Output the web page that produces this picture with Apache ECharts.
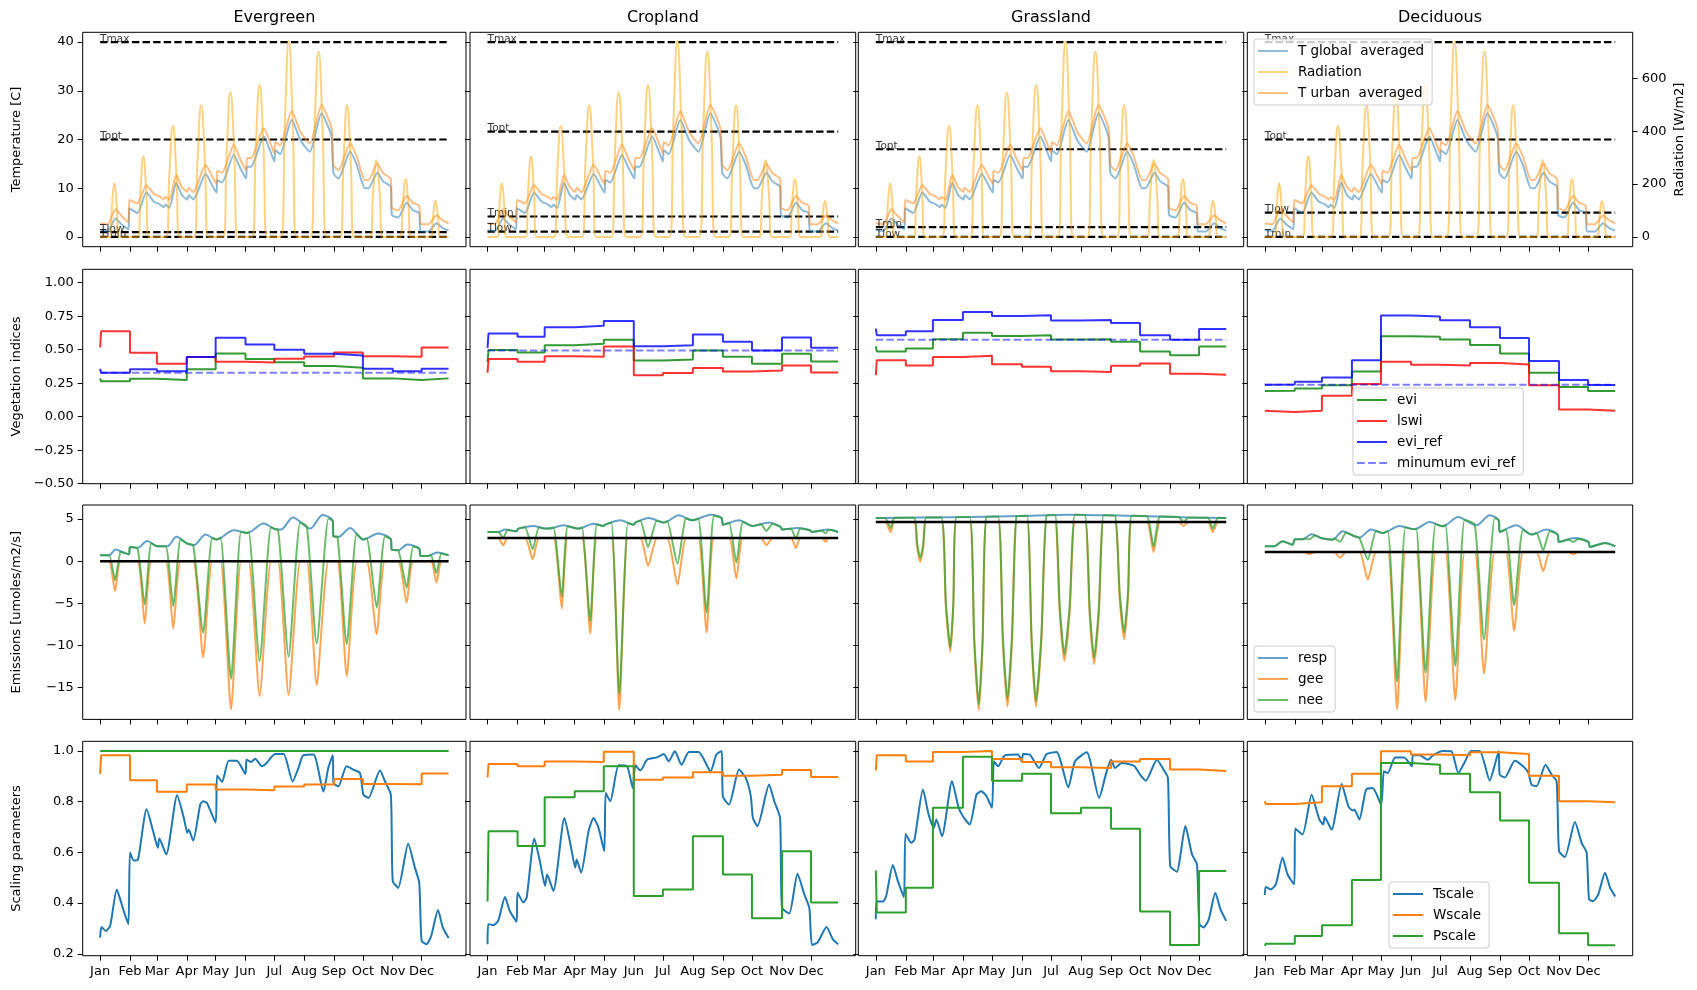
<!DOCTYPE html>
<html>
<head>
<meta charset="utf-8">
<script src="https://cdn.jsdelivr.net/npm/echarts@6/dist/echarts.min.js"></script>
<style>
  html, body { margin: 0; padding: 0; background: #fff; }
  #chart { width: 1697px; height: 990px; }
</style>
</head>
<body>
<div id="chart"></div>
<script>
// ---- data (x = day of year) ----
var columns = ['Evergreen', 'Cropland', 'Grassland', 'Deciduous'];
var monthStarts = [0, 31, 59, 90, 120, 151, 181, 212, 243, 273, 304, 334];
var monthNames = ['Jan', 'Feb', 'Mar', 'Apr', 'May', 'Jun', 'Jul', 'Aug', 'Sep', 'Oct', 'Nov', 'Dec'];
var dayEnd = 362;

// temperature thresholds per column
var tMin = [0, 4.2, 2, 0];
var tLow = [1, 1.1, 0, 5];
var tOpt = [20, 21.6, 18, 20];
var tMax = [40, 40, 40, 40];

// meteorology (same for every column)
var tGlobal = [[0,1.4],[7.6,1.2],[16,3.8],[22,2.6],[29.4,1.6],[30.4,5.9],[38.7,4.9],[48,9.1],[56,7.2],[61,6.8],[64,6.4],[66,6.1],[68,6.6],[72,6.0],[79,11.1],[85,8.6],[90.5,7.7],[92,8.6],[97,7.7],[109.5,12.9],[118,10.0],[121,9.1],[121.5,11.7],[126.7,11.2],[138.8,16.8],[145.7,14.1],[151.6,12.0],[152.6,14.4],[156.8,14.4],[170,20.6],[177,17.5],[181,15.5],[182,17.8],[187,17.0],[199,24.0],[208,19.9],[213,18.5],[218,17.5],[230,25.4],[237,22.6],[240.7,20.2],[242.4,13.1],[247.6,12.0],[259.7,17.5],[266.6,14.8],[271.8,11.4],[275,10.0],[278.7,10.0],[288,13.2],[294,11.4],[302,10.3],[303,4.5],[309.7,4.0],[318.4,7.0],[325,5.5],[331.5,4.9],[332.9,1.1],[340.8,1.1],[349.4,2.8],[356,1.8],[362,1.3]];
var tUrban = [[0,2.8],[7.6,2.6],[16,5.7],[22,4.4],[29.4,3.0],[30.4,7.6],[38.7,6.9],[48,10.6],[56,8.8],[61,8.4],[64,8.0],[66,7.7],[68,8.2],[72,7.6],[79,12.7],[85,10.2],[90.5,9.3],[92,10.1],[97,9.2],[109.5,14.8],[118,11.8],[121,10.9],[121.5,13.6],[126.7,13.2],[138.8,18.9],[145.7,15.9],[151.6,13.7],[152.6,16.2],[156.8,16.2],[170,22.3],[177,19.2],[181,17.2],[182,19.5],[187,18.8],[199,25.8],[208,21.6],[213,20.2],[218,19.2],[230,27.1],[237,24.3],[240.7,21.9],[242.4,14.8],[247.6,13.7],[259.7,19.2],[266.6,16.5],[271.8,13.1],[275,11.7],[278.7,11.7],[288,15.0],[294,13.1],[302,11.9],[303,6.0],[309.7,5.5],[318.4,8.4],[325,7.0],[331.5,6.4],[332.9,2.6],[340.8,2.6],[349.4,4.4],[356,3.4],[362,2.8]];
var radiation = [[0,0],[10.1,0],[12.4,120],[14.8,203],[17.2,120],[19.5,0],
  [39.2,0],[42,180],[44.9,304],[47.8,180],[50.6,0],
  [68.6,0],[72.1,250],[75.6,420],[79.1,250],[82.6,0],
  [97.7,0],[101.3,300],[105,498],[108.7,300],[112.3,0],
  [127.8,0],[131.6,330],[135.4,547],[139.2,330],[143,0],
  [157.9,0],[161.8,345],[165.7,575],[169.6,345],[173.5,0],
  [187.9,0],[192,440],[196,739],[200,440],[204.1,0],
  [218.6,0],[222.8,420],[226.9,701],[231,420],[235.2,0],
  [249.3,0],[253,300],[256.6,498],[260.2,300],[263.9,0],
  [280.4,0],[283.7,175],[287,289],[290.3,175],[293.6,0],
  [311.6,0],[314.5,130],[317.3,218],[320.1,130],[323,0],
  [343.4,0],[345.9,80],[348.4,136],[350.9,80],[353.4,0],[362,0]];

// vegetation indices: first value = day 0, then one value per month
var evi = [
  [0.286, 0.264, 0.283, 0.273, 0.355, 0.472, 0.43, 0.407, 0.378, 0.365, 0.286, 0.273, 0.286],
  [0.41, 0.497, 0.48, 0.534, 0.544, 0.574, 0.42, 0.427, 0.494, 0.447, 0.395, 0.469, 0.412],
  [0.526, 0.487, 0.509, 0.578, 0.626, 0.603, 0.608, 0.576, 0.578, 0.559, 0.487, 0.459, 0.524],
  [0.192, 0.194, 0.211, 0.234, 0.338, 0.60, 0.596, 0.576, 0.536, 0.472, 0.328, 0.221, 0.192]];
var lswi = [
  [0.517, 0.638, 0.477, 0.395, 0.445, 0.41, 0.405, 0.432, 0.45, 0.48, 0.452, 0.447, 0.517],
  [0.328, 0.43, 0.41, 0.452, 0.447, 0.524, 0.31, 0.326, 0.363, 0.338, 0.345, 0.383, 0.33],
  [0.31, 0.422, 0.383, 0.445, 0.454, 0.392, 0.373, 0.34, 0.333, 0.38, 0.397, 0.32, 0.313],
  [0.045, 0.035, 0.045, 0.157, 0.244, 0.41, 0.388, 0.383, 0.40, 0.39, 0.234, 0.053, 0.045]];
var eviRef = [
  [0.358, 0.328, 0.355, 0.34, 0.445, 0.59, 0.539, 0.50, 0.47, 0.457, 0.358, 0.34, 0.358],
  [0.514, 0.62, 0.596, 0.668, 0.678, 0.715, 0.526, 0.534, 0.613, 0.559, 0.494, 0.591, 0.514],
  [0.658, 0.608, 0.638, 0.722, 0.782, 0.752, 0.757, 0.717, 0.722, 0.70, 0.608, 0.574, 0.655],
  [0.239, 0.241, 0.261, 0.293, 0.422, 0.755, 0.747, 0.72, 0.668, 0.588, 0.415, 0.273, 0.236]];
var minEviRef = [0.328, 0.494, 0.574, 0.239];

// emissions: respiration curve, gee baseline (black line)
var resp = [
  [[0,0.71],[9.3,0.71],[16.2,1.38],[24.9,0.99],[30,0.83],[31,1.7],[38.7,1.58],[49,2.41],[59.4,1.78],[69.7,1.78],[79.4,2.89],[90.5,2.1],[97.4,1.9],[109.5,3.16],[120.9,2.57],[138.8,3.68],[152.6,3.36],[169.9,4.47],[182,3.79],[187.8,3.75],[200.2,5.18],[218,3.87],[231.2,5.49],[241.7,4.78],[242.4,2.96],[247.6,2.89],[259.7,3.95],[273.5,2.57],[289,3.28],[302,2.61],[303,1.38],[309.7,1.3],[319,1.98],[331.5,1.5],[332.9,0.63],[340.8,0.63],[350,1.03],[362,0.71]],
  [[0,3.47],[11,3.47],[18,3.75],[30,3.55],[31.8,3.87],[47.3,4.18],[59.4,3.87],[62.8,3.87],[78.4,4.26],[93.9,3.87],[109.5,4.46],[119.8,4.18],[121.5,4.34],[137,4.85],[150.9,4.34],[152.6,4.58],[166.4,5.13],[182,4.58],[197.5,5.44],[211.3,4.85],[230.3,5.52],[241.7,5.13],[243.1,4.34],[259.7,4.85],[273.5,4.18],[290.7,4.58],[302.8,4.06],[303.9,3.75],[320.1,3.94],[332.9,3.67],[334.9,3.47],[351.2,3.75],[362,3.47]],
  [[0,5.13],[50,5.18],[98.8,5.25],[150,5.38],[199,5.52],[240,5.44],[280,5.35],[323,5.2],[362,5.13]],
  [[0,1.78],[9.7,1.78],[18.3,2.37],[28.7,1.97],[31.1,2.6],[39,2.6],[48.3,3.2],[58,2.76],[70.1,2.56],[80.5,3.55],[92.5,2.96],[97.7,2.8],[109.8,3.75],[121.9,3.35],[139.2,4.18],[154.7,3.79],[170.2,4.65],[184,4.14],[199.6,5.25],[218.6,4.26],[232.4,5.44],[241.7,4.85],[242.7,3.47],[260,4.26],[275.6,3.16],[291.1,3.75],[302.5,3.16],[303.9,2.29],[320.4,2.76],[334.3,2.29],[336,1.7],[351.5,2.17],[362,1.78]]];
var geeBase = [0, 2.76, 4.65, 1.1];
// gee dips [start, centre, min, end, (optional wall points: x1, v1, x2, v2)]
var geeDips = [
  [[9.3,15.5,-3.55,21.4],[38.7,46.3,-7.38,53.2],[68,76,-7.97,83.6],[96.7,107,-11.4,116.4],[125,136,-17.55,146.4],[154.3,165.7,-15.98,177.5],[184.7,195.8,-15.86,207.9],[214.8,225,-14.67,237.2],[246.5,256.2,-13.6,266.6],[276.9,287.3,-8.64,295.9],[309.7,318.4,-4.93,325.3],[343.6,349.4,-2.52,354.6]],
  [[11,16.2,1.89,20.7],[38.7,46.6,0.24,53.2],[68,76.7,-5.6,82.9],[97.4,106,-8.56,112.9],[127.8,136,-17.63,145],[157.8,165.7,-0.55,175],[185.4,196.1,-2.76,205.1],[217.5,226.2,-8.44,233.8],[249.3,256.9,-2.05,263.8],[282.1,288,1.89,294.2],[313.2,318.4,1.58,322.9],[345.3,348.8,2.3,352.2]],
  [[9.7,15.2,3.47,19.3],[39.4,45.9,-0.08,52.1,42.7,1.58,49,1.58],[67.7,77,-10.73,83.2,72.35,-5.35,80.1,-5.35],[97,106.4,-17.63,114.3,101.7,-9.83,110.35,-9.83],[126.4,136,-17.24,145.4,131.2,-9.58,140.7,-9.58],[156.4,165.4,-17.24,176.5,160.9,-9.58,171,-9.58],[185.1,194.8,-11.83,205.8,190,-6.06,200.3,-6.06],[216.2,225.5,-12.23,235.2,220.9,-6.32,230.4,-6.32],[247.2,256.6,-9.23,264.5,251.9,-4.37,260.6,-4.37],[280,287,1.1,293.9],[312.8,318,4.18,323.2],[343.2,348,3.47,353.6]],
  [[40.7,45.9,0.83,51.8],[71.8,77.7,0.43,83.9],[97.7,106.4,-2.17,115],[127,136.7,-17.55,145.4],[156.4,166.1,-16.65,176.5],[186.5,196.8,-16.45,206.5],[216.9,226.5,-13.3,237.6],[249,257.6,-8.24,266.9],[280.7,287.6,-1.18,294.5],[313.5,318.7,0.83,323.9]]];
// nee dips [start, value, centre, min, end, value, (optional wall points: x1, v1, x2, v2)]
var neeDips = [
  [[9.3,0.71,15.5,-2.25,21.4,1.15],[38.7,1.58,46.3,-5.13,53.2,2.16],[68,1.78,76,-5.33,83.6,2.6],[96.7,1.92,107,-8.48,116.4,2.8],[125,2.82,136,-13.96,146.4,3.5],[154.3,3.47,165.7,-11.83,177.5,4.04],[184.7,3.77,195.8,-11.32,207.9,4.6],[214.8,4.1,225,-9.74,237.2,5.08],[246.5,2.9,256.2,-9.82,266.6,3.26],[276.9,2.73,287.3,-5.48,295.9,2.92],[309.7,1.3,318.4,-3.12,325.3,1.74],[343.6,0.77,349.4,-1.38,354.6,0.91]],
  [[11,3.47,16.2,2.76,20.7,3.7],[38.7,4.01,46.6,1.42,53.2,4.03],[68,4.0,76.7,-4.22,82.9,4.15],[97.4,4.0,106,-7.1,112.9,4.37],[127.8,4.55,136,-15.74,145,4.56],[157.8,4.79,165.7,1.7,175,4.83],[185.4,4.77,196.1,-0.28,205.1,5.12],[217.5,5.07,226.2,-6.07,233.8,5.4],[249.3,4.53,256.9,-0.16,263.8,4.65],[282.1,4.38,288,3.6,294.2,4.43],[313.2,3.86,318.4,2.68,322.9,3.88],[345.3,3.65,348.8,3.3,352.2,3.73]],
  [[9.7,5.14,15.2,3.94,19.3,5.15],[39.4,5.17,45.9,0.39,52.1,5.18,42.7,2.06,49,2.06],[67.7,5.2,77,-10.26,83.2,5.22,72.35,-4.85,80.1,-4.85],[97,5.25,106.4,-16.96,114.3,5.27,101.7,-9.18,110.35,-9.18],[126.4,5.32,136,-16.33,145.4,5.36,131.2,-8.75,140.7,-8.75],[156.4,5.4,165.4,-16.57,176.5,5.44,160.9,-8.88,171,-8.88],[185.1,5.48,194.8,-11.05,205.8,5.51,190,-5.26,200.3,-5.26],[216.2,5.5,225.5,-11.44,235.2,5.46,220.9,-5.51,230.4,-5.51],[247.2,5.42,256.6,-8.44,264.5,5.4,251.9,-3.59,260.6,-3.59],[280,5.35,287,1.7,293.9,5.31],[312.8,5.24,318,4.65,323.2,5.2],[343.2,5.17,348,3.87,353.6,5.15]],
  [[40.7,2.71,45.9,2.6,51.8,3.04],[71.8,2.72,77.7,2.3,83.9,3.38],[97.7,2.8,106.4,0.2,115,3.58],[127,3.6,136.7,-14.28,145.4,4.02],[156.4,3.88,166.1,-13.2,176.5,4.42],[186.5,4.32,196.8,-12.4,206.5,4.89],[216.9,4.35,226.5,-9.27,237.6,5.11],[249,3.76,257.6,-5.2,266.9,3.77],[280.7,3.35,287.6,1.3,294.5,3.57],[313.5,2.56,318.7,2.3,323.9,2.64]]];

// scaling parameters
var tscale = [
  [[0,0.264],[1.4,0.306],[5.9,0.29],[10.4,0.31],[17.3,0.454],[21.4,0.408],[25.6,0.356],[29.4,0.317],[31,0.6],[35,0.568],[39.4,0.572],[48.3,0.77],[56,0.67],[60,0.618],[61.5,0.655],[68.7,0.592],[80,0.826],[87,0.736],[90.5,0.677],[92,0.69],[96.7,0.647],[104,0.789],[107,0.802],[111,0.795],[120,0.717],[121.5,0.904],[126.7,0.878],[133.6,0.962],[142,0.962],[151,0.91],[152,0.966],[156.8,0.957],[161,0.97],[168,0.94],[173,0.953],[178.5,0.979],[182,0.988],[190.6,0.988],[200,0.88],[206,0.933],[211,0.983],[221.7,0.986],[232,0.84],[237,0.933],[241.7,0.983],[242.4,0.874],[247.6,0.861],[256,0.94],[263,0.927],[270,0.913],[273.5,0.828],[278.7,0.815],[290.7,0.923],[296,0.88],[302,0.828],[304,0.487],[309.7,0.461],[320,0.634],[327,0.54],[331.5,0.48],[334,0.251],[339,0.238],[344,0.271],[351,0.373],[356,0.304],[362,0.262]],
  [[0,0.238],[0.7,0.317],[5.9,0.313],[11,0.33],[18,0.424],[23,0.369],[30,0.327],[31,0.441],[37,0.402],[40.4,0.422],[48.3,0.655],[54,0.566],[59.4,0.468],[61.5,0.513],[68,0.448],[79.4,0.736],[86.3,0.618],[90.5,0.54],[92,0.572],[96.7,0.52],[104.3,0.684],[109.5,0.736],[114.6,0.697],[120.5,0.605],[122,0.835],[126.7,0.802],[135.4,0.944],[144,0.94],[150,0.854],[152.6,0.944],[157.8,0.923],[164.7,0.966],[175,0.975],[182,0.988],[187,0.959],[193.4,0.999],[200.3,0.946],[207.9,0.996],[218,0.996],[230.3,0.92],[236.2,0.986],[241.7,1.0],[243,0.82],[249.3,0.789],[259.7,0.927],[266.6,0.894],[271.8,0.822],[274,0.736],[278.7,0.704],[290.7,0.868],[296,0.802],[302,0.736],[304,0.382],[311.5,0.359],[320,0.516],[327,0.435],[332.2,0.382],[335,0.235],[340.8,0.245],[350,0.306],[356.4,0.258],[362,0.238]],
  [[0,0.336],[0.7,0.406],[7.3,0.406],[10.7,0.428],[17.6,0.55],[22.8,0.487],[29,0.424],[30.7,0.673],[36.6,0.638],[40,0.651],[48.7,0.848],[54.6,0.749],[60,0.697],[62.5,0.73],[68.4,0.664],[78.7,0.881],[85.6,0.776],[90,0.743],[97,0.71],[104,0.828],[109,0.841],[114.3,0.822],[120,0.776],[122,0.96],[126.4,0.94],[133.3,0.983],[147,0.986],[150.6,0.96],[152.3,0.988],[159,0.986],[168.5,0.933],[176.5,0.988],[186.8,0.996],[198.9,0.857],[205.8,0.96],[217.9,0.995],[230.7,0.815],[237.6,0.907],[243,0.966],[247.2,0.933],[254,0.953],[261,0.949],[267.3,0.94],[273,0.907],[279,0.883],[290.4,0.966],[297.3,0.927],[301.8,0.894],[304.2,0.546],[311,0.524],[319.8,0.704],[326.7,0.592],[331.8,0.553],[334.3,0.317],[338.7,0.304],[344,0.336],[350.8,0.441],[356,0.376],[362,0.33]],
  [[0,0.432],[1,0.464],[6.2,0.454],[11.4,0.474],[18.3,0.579],[23.5,0.513],[30.4,0.474],[31.4,0.694],[39,0.671],[48.3,0.828],[56.3,0.73],[60.4,0.71],[61.8,0.74],[69,0.69],[79.4,0.87],[86.3,0.782],[90.8,0.765],[92.5,0.769],[97.7,0.73],[104.6,0.848],[111.5,0.854],[120.2,0.789],[123,0.92],[127,0.913],[134.7,0.975],[144,0.975],[152,0.94],[153,0.983],[160,0.983],[168.5,0.966],[173.7,0.983],[184,1.0],[192.7,0.999],[200,0.913],[207,0.96],[213,1.0],[222,1.0],[232.4,0.883],[237.6,0.946],[241.7,0.999],[242.7,0.907],[248,0.896],[258.3,0.962],[265,0.946],[272,0.917],[275.6,0.867],[280.7,0.861],[290,0.946],[296.3,0.907],[301.5,0.88],[304,0.605],[310,0.582],[320.4,0.72],[327.3,0.638],[332.5,0.599],[335,0.415],[339.4,0.408],[344.6,0.435],[351.5,0.52],[356.7,0.461],[362,0.426]]];
var wscale = [
  [0.91, 0.983, 0.885, 0.839, 0.868, 0.848, 0.845, 0.86, 0.868, 0.89, 0.87, 0.869, 0.911],
  [0.896, 0.949, 0.94, 0.959, 0.957, 0.997, 0.887, 0.896, 0.916, 0.903, 0.907, 0.925, 0.898],
  [0.923, 0.983, 0.959, 0.996, 1.0, 0.969, 0.957, 0.936, 0.933, 0.959, 0.969, 0.927, 0.921],
  [0.802, 0.791, 0.798, 0.861, 0.91, 0.999, 0.986, 0.983, 0.995, 0.988, 0.903, 0.802, 0.798]];
var pscale = [
  [1, 1, 1, 1, 1, 1, 1, 1, 1, 1, 1, 1, 1],
  [0.406, 0.684, 0.625, 0.818, 0.841, 0.94, 0.428, 0.454, 0.664, 0.513, 0.34, 0.605, 0.402],
  [0.529, 0.363, 0.461, 0.776, 0.978, 0.883, 0.91, 0.755, 0.776, 0.693, 0.367, 0.235, 0.527],
  [0.231, 0.24, 0.27, 0.313, 0.491, 0.953, 0.946, 0.91, 0.837, 0.726, 0.48, 0.281, 0.234]];

// ---- layout ----
var colLeft = [82.7, 470, 858.3, 1247.3];
var colWidth = [383.3, 385.7, 385.4, 385.4];
var rowTop = [32.3, 269.3, 505, 741.3];
var rowHeight = 214.4;
var FONT = 'DejaVu Sans';

// y axis per row
var rowY = [
  { min: -2, max: 42, ticks: [0, 10, 20, 30, 40], dec: 0, name: 'Temperature [C]' },
  { min: -0.5, max: 1.1, ticks: [-0.5, -0.25, 0, 0.25, 0.5, 0.75, 1.0], dec: 2, name: 'Vegetation indices' },
  { min: -18.76, max: 6.67, ticks: [-15, -10, -5, 0, 5], dec: 0, name: 'Emissions [umoles/m2/s]' },
  { min: 0.1925, max: 1.0385, ticks: [0.2, 0.4, 0.6, 0.8, 1.0], dec: 1, name: 'Scaling parameters' }
];
var radTicks = [0, 200, 400, 600];

function stepPoints(v) {
  var pts = [[0, v[0]]];
  for (var i = 0; i < 12; i++) {
    var x0 = i === 0 ? 1 : monthStarts[i];
    var x1 = i < 11 ? monthStarts[i + 1] : dayEnd;
    pts.push([x0, v[i + 1]], [x1, v[i + 1]]);
  }
  return pts;
}
function geePoints(base, dips) {
  var pts = [[0, base]];
  dips.forEach(function (d) {
    pts.push([d[0], base], [d[1], d[2]], [d[3], base]);
    if (d.length > 4) pts.push([d[4], d[5]], [d[6], d[7]]);
  });
  pts.push([dayEnd, base]);
  pts.sort(function (a, b) { return a[0] - b[0]; });
  return pts;
}
function neePoints(r, dips) {
  var pts = r.filter(function (p) {
    return !dips.some(function (d) { return p[0] >= d[0] && p[0] <= d[4]; });
  });
  dips.forEach(function (d) {
    pts.push([d[0], d[1]], [d[2], d[3]], [d[4], d[5]]);
    if (d.length > 6) pts.push([d[6], d[7]], [d[8], d[9]]);
  });
  pts.sort(function (a, b) { return a[0] - b[0]; });
  return pts;
}
function flat(v) { return [[0, v], [dayEnd, v]]; }

var grids = [], xAxes = [], yAxes = [], series = [], graphics = [];

for (var r = 0; r < 4; r++) {
  for (var c = 0; c < 4; c++) {
    var idx = r * 4 + c;
    grids.push({
      left: colLeft[c], top: rowTop[r], width: colWidth[c], height: rowHeight,
      show: true, borderColor: '#000', borderWidth: 1, backgroundColor: 'transparent',
      outerBoundsMode: 'none'
    });
    xAxes.push({
      type: 'value', gridIndex: idx, min: -18.1, max: 380.1,
      axisLine: { show: false, onZero: false },
      splitLine: { show: false },
      axisTick: { show: true, customValues: monthStarts, length: 5, lineStyle: { color: '#000', width: 1 } },
      axisLabel: {
        show: r === 3, customValues: monthStarts, margin: 9,
        color: '#000', fontFamily: FONT, fontSize: 13,
        formatter: function (v) { return monthNames[monthStarts.indexOf(Math.round(v))] || ''; }
      }
    });
    (function (row) {
      yAxes.push({
        type: 'value', gridIndex: idx, min: rowY[row].min, max: rowY[row].max,
        name: c === 0 ? rowY[row].name : '', nameLocation: 'middle', nameGap: 60,
        nameMoveOverlap: false,
        nameTextStyle: { color: '#000', fontFamily: FONT, fontSize: 13 },
        axisLine: { show: false, onZero: false },
        splitLine: { show: false },
        axisTick: { show: true, customValues: rowY[row].ticks, length: 5, lineStyle: { color: '#000', width: 1 } },
        axisLabel: {
          show: c === 0, customValues: rowY[row].ticks, margin: 9,
          color: '#000', fontFamily: FONT, fontSize: 13,
          formatter: function (v) { return v.toFixed(rowY[row].dec).replace('-', '\u2212'); }
        }
      });
    })(r);
  }
}
// twin radiation axes on the top row
for (var c2 = 0; c2 < 4; c2++) {
  yAxes.push({
    type: 'value', gridIndex: c2, position: 'right', min: -36.85, max: 773.85,
    name: c2 === 3 ? 'Radiation [W/m2]' : '', nameLocation: 'middle', nameGap: 40,
    nameMoveOverlap: false,
    nameTextStyle: { color: '#000', fontFamily: FONT, fontSize: 13 },
    axisLine: { show: false, onZero: false },
    splitLine: { show: false },
    axisTick: { show: c2 === 3, customValues: radTicks, length: 5, lineStyle: { color: '#000', width: 1 } },
    axisLabel: { show: c2 === 3, customValues: radTicks, margin: 9, color: '#000', fontFamily: FONT, fontSize: 13 }
  });
}

function line(name, gridIdx, yIdx, data, color, width, extra) {
  var s = {
    type: 'line', name: name, xAxisIndex: gridIdx, yAxisIndex: yIdx, data: data,
    symbol: 'none', silent: true, clip: true,
    lineStyle: { color: color, width: width },
    itemStyle: { color: color }
  };
  for (var k in extra) s[k] = extra[k];
  if (extra && extra.dash) s.lineStyle.type = extra.dash;
  return s;
}

var C = {
  tGlobal: 'rgba(31,119,180,0.5)', rad: 'rgba(255,165,0,0.5)', tUrban: 'rgba(255,127,14,0.5)',
  evi: 'rgba(0,128,0,0.8)', lswi: 'rgba(255,0,0,0.8)', eviRef: 'rgba(0,0,255,0.8)', minEvi: 'rgba(0,0,255,0.5)',
  resp: 'rgba(31,119,180,0.7)', gee: 'rgba(255,127,14,0.7)', nee: 'rgba(44,160,44,0.7)',
  ts: '#1f77b4', ws: '#ff7f0e', ps: '#2ca02c'
};

for (var k = 0; k < 4; k++) {
  // row 1: temperature and radiation
  var th = [['Tmax', tMax[k]], ['Topt', tOpt[k]], ['Tlow', tLow[k]], ['Tmin', tMin[k]]];
  th.forEach(function (t) {
    series.push(line('_' + t[0] + k, k, k, flat(t[1]), '#000', 2.2, { dash: [7.4, 3.2], z: 2 }));
    series.push({
      type: 'scatter', name: '_lbl' + t[0] + k, xAxisIndex: k, yAxisIndex: k, silent: true,
      data: [[0, t[1]]], symbolSize: 1, itemStyle: { color: 'rgba(0,0,0,0)' }, z: 3,
      label: { show: true, formatter: t[0], position: 'top', align: 'left', distance: 0, offset: [0, 3],
        color: '#000', fontFamily: FONT, fontSize: 10.5 }
    });
  });
  series.push(line('T global  averaged', k, k, tGlobal, C.tGlobal, 2, { smooth: 0.2, z: 3 }));
  series.push(line('T urban  averaged', k, k, tUrban, C.tUrban, 2, { smooth: 0.2, z: 3 }));
  series.push(line('Radiation', k, 16 + k, radiation, C.rad, 2, { smooth: 0.5, z: 4 }));

  // row 2: vegetation
  var g2 = 4 + k;
  series.push(line('evi', g2, g2, stepPoints(evi[k]), C.evi, 2));
  series.push(line('lswi', g2, g2, stepPoints(lswi[k]), C.lswi, 2));
  series.push(line('evi_ref', g2, g2, stepPoints(eviRef[k]), C.eviRef, 2));
  series.push(line('minumum evi_ref', g2, g2, flat(minEviRef[k]), C.minEvi, 2, { dash: [7.4, 3.2] }));

  // row 3: emissions
  var g3 = 8 + k;
  series.push(line('resp', g3, g3, resp[k], C.resp, 2, { smooth: 0.3 }));
  series.push(line('gee', g3, g3, geePoints(geeBase[k], geeDips[k]), C.gee, 2, { smooth: 0.2 }));
  series.push(line('nee', g3, g3, neePoints(resp[k], neeDips[k]), C.nee, 2, { smooth: 0.2 }));
  series.push(line('_base' + k, g3, g3, flat(geeBase[k]), '#000', 2.5, { z: 5 }));

  // row 4: scaling parameters
  var g4 = 12 + k;
  series.push(line('Tscale', g4, g4, tscale[k], C.ts, 2, { smooth: 0.2 }));
  series.push(line('Wscale', g4, g4, stepPoints(wscale[k]), C.ws, 2));
  series.push(line('Pscale', g4, g4, stepPoints(pscale[k]), C.ps, 2));

  graphics.push({
    type: 'text', x: colLeft[k] + colWidth[k] / 2, y: 18, silent: true,
    style: { text: columns[k], textAlign: 'center', textVerticalAlign: 'middle', font: '16px "DejaVu Sans"', fill: '#000' }
  });
}

var SOLID_ICON = 'path://M0,0H30V2H0Z';
var DASH_ICON = 'path://M0,0H7.4V2H0ZM10.6,0H18V2H10.6ZM21.2,0H28.6V2H21.2Z';

function legendBox(names, left, top) {
  return {
    data: names.map(function (n) {
      return { name: n, icon: n === 'minumum evi_ref' ? DASH_ICON : SOLID_ICON };
    }),
    orient: 'vertical', left: left, top: top,
    itemWidth: 30, itemHeight: 14, itemGap: 7, padding: [5, 8, 5, 4],
    symbolKeepAspect: true,
    backgroundColor: 'rgba(255,255,255,0.8)', borderColor: '#cccccc', borderWidth: 1, borderRadius: 3,
    selectedMode: false, z: 10,
    textStyle: { color: '#000', fontFamily: FONT, fontSize: 13.5, padding: [0, 0, 0, 5] }
  };
}

var option = {
  animation: false,
  backgroundColor: '#fff',
  grid: grids,
  xAxis: xAxes,
  yAxis: yAxes,
  legend: [
    legendBox(['T global  averaged', 'Radiation', 'T urban  averaged'], 1254, 39),
    legendBox(['evi', 'lswi', 'evi_ref', 'minumum evi_ref'], 1353, 388),
    legendBox(['resp', 'gee', 'nee'], 1254, 646),
    legendBox(['Tscale', 'Wscale', 'Pscale'], 1389, 882)
  ],
  graphic: graphics,
  series: series
};

var chart = echarts.init(document.getElementById('chart'));
chart.setOption(option);
</script>
</body>
</html>
